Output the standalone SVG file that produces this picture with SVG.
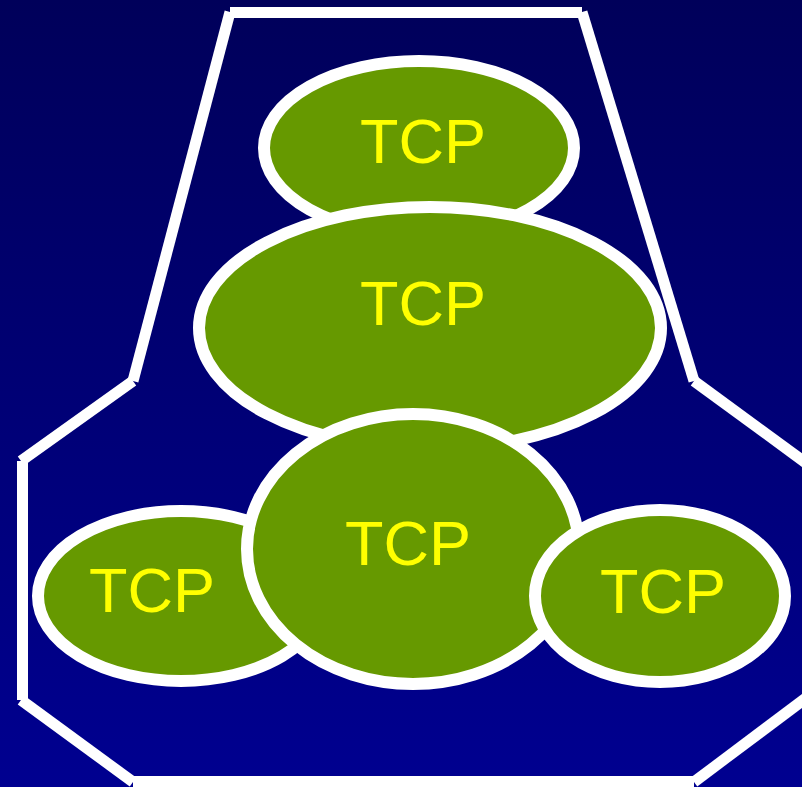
<svg xmlns="http://www.w3.org/2000/svg" width="802" height="787" viewBox="0 0 802 787">
  <defs>
    <linearGradient id="bg" x1="0" y1="0" x2="0" y2="1">
      <stop offset="0" stop-color="#00005a"/>
      <stop offset="1" stop-color="#000090"/>
    </linearGradient>
    <style>
      .frame line { stroke: #ffffff; stroke-width: 11; stroke-linecap: butt; }
      .node ellipse { fill: #669900; stroke: #ffffff; stroke-width: 12; }
      .node text { font-family: "Liberation Sans", Arial, sans-serif; font-size: 63px; fill: #ffff00; text-anchor: middle; }
    </style>
  </defs>

  <rect width="802" height="787" fill="url(#bg)"/>

  <!-- outer frame, drawn as separate segments -->
  <g id="connectors" class="frame">
    <line x1="230" y1="12.5" x2="582" y2="12.5"/>
    <line x1="230" y1="12" x2="133" y2="381"/>
    <line x1="582" y1="12" x2="694" y2="381"/>
    <line x1="133" y1="381" x2="21" y2="461"/>
    <line x1="694" y1="381" x2="806" y2="463"/>
    <line x1="22.5" y1="461" x2="22.5" y2="700"/>
    <line x1="21" y1="700" x2="133" y2="782"/>
    <line x1="133" y1="781.5" x2="694" y2="781.5"/>
    <line x1="694" y1="782" x2="806" y2="698"/>
  </g>

  <g id="tcp-top" class="node">
    <ellipse cx="419" cy="148" rx="155" ry="87"/>
    <text x="423" y="163">TCP</text>
  </g>

  <g id="tcp-middle" class="node">
    <ellipse cx="430" cy="328" rx="231" ry="121"/>
    <text x="423" y="325">TCP</text>
  </g>

  <g id="tcp-left" class="node">
    <ellipse cx="181" cy="596" rx="143" ry="85"/>
    <text x="152" y="612">TCP</text>
  </g>

  <g id="tcp-center" class="node">
    <ellipse cx="413" cy="549" rx="166" ry="135"/>
    <text x="408" y="565">TCP</text>
  </g>

  <g id="tcp-right" class="node">
    <ellipse cx="660" cy="596" rx="125" ry="86"/>
    <text x="663" y="613">TCP</text>
  </g>
</svg>
